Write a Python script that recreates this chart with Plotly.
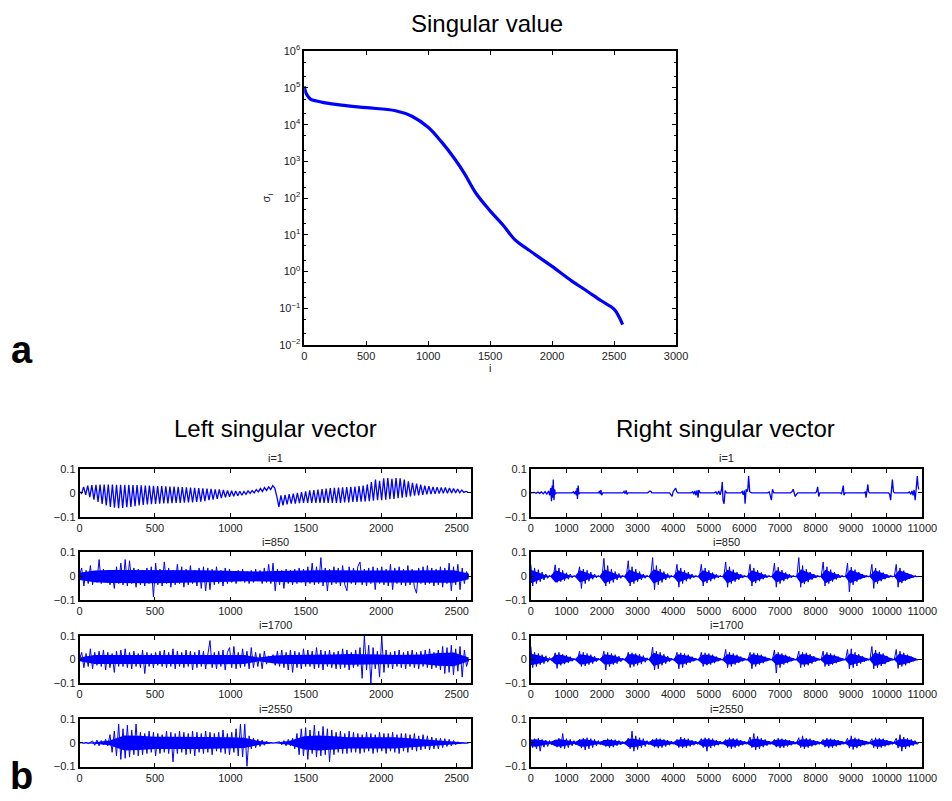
import numpy as np
import plotly.graph_objects as go

# ---- singular value spectrum (panel a) ----
sv_index = [0, 10, 21, 53, 100, 158, 300, 500, 737, 869, 1000, 1108, 1212, 1291,
            1383, 1500, 1607, 1699, 1792, 2000, 2160, 2266, 2397, 2500, 2542, 2569]
sv_value = [1.1e5, 8.0e4, 6.6e4, 4.9e4, 4.4e4, 4.0e4, 3.4e4, 2.9e4, 2.4e4, 1.7e4,
            8.5e3, 3.4e3, 1.2e3, 480, 140, 45, 18, 7.4, 4.3, 1.38, 0.55, 0.32,
            0.16, 0.095, 0.057, 0.036]
sv_yticks = [-2, -1, 0, 1, 2, 3, 4, 5, 6]
sv_xticks = [0, 500, 1000, 1500, 2000, 2500, 3000]

# ---- left singular vectors (values in units of 1e-3) ----
left_len = 2580
left_xticks = [0, 500, 1000, 1500, 2000, 2500]

# i=1 : per-cycle peak and trough
u1_peaks = [5, 25, 30, 32, 33, 34, 35, 35, 35, 34,
            34, 33, 33, 32, 32, 31, 30, 30, 29, 28,
            28, 27, 26, 26, 25, 24, 23, 22, 21, 20,
            19, 18, 17, 15, 14, 12, 10, 9, 8, 7,
            6, 8, 10, 14, 18, 22, 25, 30,
            -15, -10, -8, -5, -3, 0, 3, 6,
            10, 12, 14, 16, 18, 20, 21, 22, 23, 24,
            25, 26, 28, 30, 35, 45,
            55, 50, 60, 62, 58, 62, 60, 55, 48,
            42, 38, 34, 30, 28, 25, 24, 22, 22, 20, 18, 16, 12, 6]
u1_troughs = [-2, -8, -18, -28, -38, -46, -52, -58, -62, -64,
              -63, -60, -58, -55, -52, -50, -48, -47, -46, -45,
              -44, -44, -43, -42, -42, -41, -40, -40, -38, -36,
              -34, -30, -28, -25, -22, -18, -16, -14, -12, -10,
              -6, -2, 0, 4, 6, 10, 14, 20,
              -58, -52, -48, -45, -45, -43, -42, -42,
              -42, -42, -42, -42, -42, -42, -42, -42, -40, -40,
              -38, -38, -36, -36, -34, -32,
              -30, -30, -28, -26, -25, -22, -20, -18, -15,
              -12, -10, -8, -6, -5, -4, -3, -2, -2, -1, 0, 0, 2, 3]

u850 = [5, 35, -40, 25, -30, 45, -35, 20, -25, 70,
        -30, 30, -20, 25, -35, 15, -50, 40, -30, 55,
        -35, 70, -40, 65, -30, 35, -45, 30, -35, 25,
        -40, 35, -30, 40, -85, 55, -35, 30, -40, 60,
        -30, 35, -45, 25, -35, 50, -30, 40, -45, 30,
        -35, 45, -30, 25, -40, 35, -50, 40, -60, 35,
        -55, 30, -35, 40, -30, 25, -40, 35, -30, 30,
        -25, 20, -30, 25, -20, 30, -25, 20, -30, 25,
        -25, 30, -20, 25, -30, 35, -25, 50, -30, 55,
        -60, 30, -35, 25, -50, 30, -30, 25, -35, 30,
        -30, 35, -25, 30, -40, 40, -30, 55, -35, 40,
        -30, 78, -40, 35, -60, 30, -35, 40, -30, 35,
        -40, 45, -35, -60, 40, -30, 35, -35, 40, 60,
        -35, 30, -40, 35, -30, 40, -55, 35, -30, 40,
        -35, 30, -40, 50, -55, 35, -30, 40, -35, 30,
        -40, 45, -35, 30, -45, -70, 35, -30, 40, -35,
        45, -30, 35, -40, 30, -35, 40, -45, 35, -30,
        55, -60, 40, -35, 50, -55, 35, -30, 20, 0]
u850_core = [15, 24, 27, 27, 28, 28, 27, 27, 26, 24, 22, 20, 20, 22,
             24, 24, 26, 26, 24, 24, 24, 24, 24, 24, 26, 26, 12]

u1700 = [0, 30, -35, 25, -30, 45, -40, 30, -25, 35,
         -30, 40, -45, 30, -35, 25, -55, 35, -30, 40,
         -30, 45, -35, 30, -40, 35, -30, 25, -35, 40,
         -60, 30, -30, 25, -35, 30, -25, 35, -30, 40,
         -35, 30, -30, 45, -40, 35, -30, 30, -35, 40,
         -30, 35, -45, 30, -35, 40, -30, 35, -40, 30,
         80, -35, 30, -40, 35, -30, 40, -45, 30, 50,
         -35, 55, -40, 30, -35, 45, -30, 35, -40, 50,
         -35, 30, -30, 25, -40, 35, -20, 15, -10, 20,
         -25, 35, -30, 40, -35, 30, -45, 40, -55, 35,
         -35, 30, -40, 45, -30, 40, -30, 35, -40, 50,
         -35, 40, -45, 35, -30, 40, -35, 30, -40, 35,
         -40, 45, -35, 40, -45, 30, -35, 40, -30, 50,
         -80, 100, -45, 60, -100, 50, -40, 35, -75, 100,
         -55, 40, -35, 30, -40, 35, -30, 40, -35, 30,
         -40, 35, -30, 40, -35, 30, -40, 35, -30, 40,
         -35, 45, -40, 30, -35, 40, -45, 55, -60, 50,
         -55, 60, -65, 45, -50, 55, -75, 40, -30, 0]
u1700_core = [8, 19, 19, 19, 19, 19, 19, 19, 19, 21, 21, 19, 8, 17,
              19, 19, 21, 21, 23, 23, 21, 19, 19, 21, 27, 29, 8]

u2550 = [0, 2, -2, 3, -3, 2,
         8, -10, 12, -12, 10, -8, 15, -12,
         35, -40, 50, -55, 80, -70, 60, -65, 75, -60, 55, -50, 80, -55,
         45, -50, 40, -45, 50, -40, 45, -55, 40, -45, 35, -40, 50, -45,
         45, -80, 40, -45, 50, -40, 45, -50, 40, -45, 50, -55, 45, -40,
         40, -45, 50, -40, 45, -50, 40, -35, 45, -40, 55, -45, 40, -50,
         45, -40, 60, -55, 80, -60, 80, -100,
         30, -25, 20, -20, 15, -15, 12, -10, 8,
         -3, 2, -1, 1, 0,
         5, -8, 10, -12, 15, -12, 20, -25,
         40, -50, 60, -55, 65, -70, 55, -45, 75, -60, 50, -55, 70, -50,
         60, -80, 55, -50, 45, -40, 50, -45, 40, -45, 50, -40, 45, -40,
         40, -45, 35, -40, 45, -35, 40, -45, 35, -40, 45, -35, 40, -45,
         40, -35, 45, -40, 35, -45, 40, -35, 40, -40, 35, -30, 40, -35,
         30, -30, 35, -25, 30, -30, 25, -25, 20, -25, 20, -20,
         18, -15, 15, -12, 10, -8, 5, -4,
         2, -1, 1, 0]
u2550_core = [1, 3, 10, 32, 30, 26, 26, 26, 26, 26, 24, 22, 8, 1,
              8, 28, 32, 28, 24, 24, 24, 24, 20, 16, 10, 5, 1]

# ---- right singular vectors (values in units of 1e-3) ----
right_len = 10900
right_xticks = list(range(0, 11001, 1000))

v1_x = [0, 100, 150, 200, 250, 300, 350, 400, 450, 500, 530, 560, 580, 600, 615, 630, 650, 670, 690, 720,
        1150, 1200, 1230, 1260, 1280, 1300, 1310, 1330, 1350, 1380,
        1900, 1930, 1950, 1970, 1990, 2020,
        2580, 2620, 2650, 2680, 2700, 2730,
        3280, 3320, 3350, 3380, 3400,
        3900, 3950, 3970, 4000, 4040, 4070, 4100, 4130,
        4500, 4550, 4580, 4610, 4640, 4670, 4700, 4720, 4760,
        5150, 5200, 5240, 5280, 5320, 5360, 5380, 5400, 5430, 5460, 5500,
        5900, 5940, 5970, 6000, 6020, 6050, 6080, 6100, 6120, 6150, 6200,
        6650, 6700, 6730, 6760, 6790, 6830,
        7300, 7340, 7370, 7400, 7430, 7470, 7500,
        8000, 8030, 8060, 8090, 8120,
        8700, 8730, 8760, 8780, 8800, 8830,
        9370, 9400, 9420, 9440, 9470, 9490, 9520,
        10050, 10080, 10110, 10130, 10160, 10190, 10220,
        10600, 10640, 10680, 10710, 10740, 10770, 10800, 10830, 10860, 10880, 10900]
v1_y = [0, 2, -2, 3, -2, 4, -4, 5, -5, 8, -10, 20, -35, 30, -20, 55, -30, 15, -5, 0,
        0, 4, -5, 8, -10, 20, -25, 30, -5, 0,
        0, 8, -5, 12, -10, 0,
        0, 6, -3, 10, -6, 0,
        0, 4, 8, 5, 0,
        0, -8, -15, 5, 12, 20, 5, 0,
        0, 5, -6, 8, -10, 10, -20, 12, 0,
        0, 4, -6, 8, -8, 15, 45, -30, -45, 10, 0,
        0, 6, -8, 10, -45, 15, 5, 20, 70, 5, 0,
        0, 4, -10, -30, 15, 0,
        0, 5, 15, -5, -15, -5, 0,
        0, 5, 25, -15, 0,
        0, -5, 10, 30, -10, 0,
        0, 5, -20, 10, 35, 5, 0,
        0, -5, -30, 20, 55, 5, 0,
        0, 4, -6, 8, -10, 12, -30, 20, 70, 30, 15]

v850 = [50, -40, 35, -30, 28, -22, 18, -15, 10, -8, 5, -3, 1,
        48, -25, 35, -22, 25, -18, 15, -12, 10, -6, 4, -2, 1,
        40, -50, 30, -30, 25, -20, 18, -12, 10, -6, 4, -2, 0,
        75, -40, 45, -30, 30, -25, 20, -15, 12, -8, 5, -3, 1,
        65, -40, 40, -30, 30, -22, 20, -15, 10, -8, 5, -3, 1,
        78, -55, 45, -35, 30, -25, 20, -15, 12, -8, 5, -3, 1,
        50, -45, 35, -30, 25, -20, 18, -12, 10, -6, 4, -2, 1,
        50, -40, 35, -28, 25, -20, 16, -12, 9, -6, 4, -2, 1,
        60, -45, 40, -30, 28, -22, 18, -14, 10, -7, 4, -2, 1,
        50, -40, 35, -28, 25, -20, 16, -12, 9, -6, 4, -2, 1,
        55, -45, 38, -30, 26, -20, 16, -12, 9, -6, 4, -2, 1,
        78, -45, 45, -32, 30, -24, 18, -14, 10, -7, 4, -2, 1,
        60, -40, 40, -30, 28, -22, 18, -13, 10, -6, 4, -2, 1,
        55, -65, 38, -35, 28, -22, 18, -12, 9, -6, 4, -2, 1,
        50, -50, 35, -30, 25, -20, 16, -12, 9, -6, 4, -2, 1,
        50, -45, 35, -28, 24, -18, 14, -10, 7, -5, 3, -2, 0]
v850_core = [28, 20, 12, 5, 2,  25, 18, 10, 4, 2,  25, 18, 10, 4, 2,  30, 20, 12, 5, 2,
             28, 20, 12, 5, 2,  30, 22, 12, 5, 2,  25, 18, 10, 4, 2,  25, 18, 10, 4, 2,
             28, 20, 12, 5, 2,  25, 18, 10, 4, 2,  25, 18, 10, 4, 2,  30, 20, 12, 5, 2,
             28, 18, 10, 4, 2,  28, 20, 12, 5, 2,  25, 18, 10, 4, 2,  25, 18, 10, 4, 1]

v1700 = [55, -35, 30, -30, 25, -22, 20, -18, 15, -12, 8, -4, 1,
         28, -38, 30, -25, 22, -20, 18, -15, 12, -8, 5, -3, 1,
         35, -30, 30, -28, 25, -22, 20, -18, 14, -10, 6, -3, 1,
         35, -45, 30, -30, 25, -22, 20, -18, 14, -10, 6, -3, 1,
         30, -35, 28, -30, 25, -25, 22, -20, 16, -12, 7, -3, 1,
         52, -45, 35, -40, 30, -25, 22, -18, 14, -10, 6, -3, 1,
         30, -40, 28, -35, 25, -22, 20, -15, 12, -8, 5, -3, 1,
         30, -30, 28, -25, 25, -22, 20, -16, 12, -8, 5, -3, 1,
         42, -35, 30, -30, 25, -22, 20, -15, 12, -8, 5, -3, 1,
         30, -40, 28, -30, 25, -22, 20, -16, 12, -8, 5, -3, 1,
         40, -58, 30, -35, 25, -22, 20, -16, 12, -8, 5, -3, 1,
         35, -35, 30, -30, 28, -25, 22, -18, 14, -10, 6, -3, 1,
         35, -30, 30, -28, 25, -22, 20, -16, 12, -8, 5, -3, 1,
         42, -40, 45, -35, 30, -28, 22, -18, 14, -10, 6, -3, 1,
         55, -40, 40, -35, 32, -28, 25, -20, 15, -10, 6, -3, 1,
         42, -38, 35, -30, 28, -25, 20, -16, 12, -8, 5, -3, 0]
v1700_core = [24, 20, 16, 8, 2,  20, 20, 15, 8, 2,  22, 20, 16, 8, 2,  22, 20, 16, 8, 2,
              22, 22, 16, 8, 2,  28, 22, 16, 8, 2,  22, 20, 15, 8, 2,  20, 20, 15, 8, 2,
              22, 20, 15, 8, 2,  22, 20, 15, 8, 2,  24, 20, 15, 8, 2,  22, 22, 16, 8, 2,
              22, 20, 15, 8, 2,  25, 22, 16, 8, 2,  28, 22, 18, 8, 2,  24, 20, 15, 8, 1]

v2550 = [15, -20, 18, -25, 20, -35, 15, -18, 12, -15, 10, -8, 5,
         12, -18, 20, -22, 40, -25, 18, -20, 15, -12, 10, -8, 6,
         15, -22, 20, -30, 22, -25, 18, -20, 15, -12, 10, -8, 5,
         12, -15, 18, -20, 15, -18, 14, -12, 10, -8, 6, -5, 4,
         20, -25, 50, -35, 30, -28, 22, -20, 18, -15, 10, -8, 5,
         15, -18, 20, -22, 18, -20, 15, -15, 12, -10, 8, -6, 4,
         15, -20, 25, -22, 20, -20, 18, -15, 12, -10, 8, -6, 4,
         18, -20, 22, -35, 20, -22, 18, -15, 12, -10, 8, -6, 4,
         15, -20, 22, -25, 20, -20, 18, -15, 12, -10, 8, -6, 4,
         25, -20, 40, -30, 28, -25, 20, -18, 15, -12, 8, -6, 4,
         15, -18, 20, -22, 18, -20, 15, -15, 12, -10, 8, -6, 4,
         22, -20, 30, -25, 20, -20, 18, -15, 12, -10, 8, -6, 4,
         15, -18, 20, -22, 18, -20, 15, -15, 12, -10, 8, -6, 4,
         20, -22, 30, -28, 22, -22, 18, -15, 12, -10, 8, -6, 4,
         18, -20, 22, -25, 20, -20, 18, -15, 12, -10, 8, -6, 4,
         20, -22, 35, -35, 25, -25, 20, -18, 15, -12, 10, -6, 0]
v2550_core = [14, 16, 12, 8, 5,  14, 16, 12, 8, 5,  15, 16, 12, 8, 5,  12, 14, 10, 7, 4,
              18, 18, 14, 9, 5,  14, 15, 12, 8, 4,  14, 16, 12, 8, 4,  15, 16, 12, 8, 4,
              14, 16, 12, 8, 4,  16, 18, 14, 9, 5,  14, 15, 12, 8, 4,  15, 16, 12, 8, 4,
              14, 15, 12, 8, 4,  15, 17, 13, 8, 4,  14, 16, 12, 8, 4,  15, 17, 13, 8, 2]

panel_titles = ["i=1", "i=850", "i=1700", "i=2550"]

# ---------------------------------------------------------------------------
W, H = 952, 801
BLUE = "#0000ff"
FONT = "Liberation Sans, Arial, Helvetica, sans-serif"


def xdom(left, right):
    return [left / W, right / W]


def ydom(top, bottom):
    return [1 - bottom / H, 1 - top / H]


def milli(vals):
    return np.asarray(vals, dtype=float) * 1e-3


def sampled(vals, length):
    # signal values taken at a fixed stride along the sample index
    y = milli(vals)
    return np.linspace(0, length, len(y)), y


axis_style = dict(showline=True, linecolor="black", linewidth=1.6, mirror="ticks",
                  ticks="inside", ticklen=4, tickwidth=1, tickcolor="black",
                  showgrid=False, zeroline=False,
                  tickfont=dict(family=FONT, size=11, color="#222"))

fig = go.Figure()

# panel a
fig.add_trace(go.Scatter(x=sv_index, y=sv_value, mode="lines", line=dict(color=BLUE, width=3.2, shape="spline"),
                         xaxis="x", yaxis="y", hoverinfo="skip", showlegend=False))
layout = dict(
    width=W, height=H, margin=dict(l=0, r=0, t=0, b=0),
    paper_bgcolor="white", plot_bgcolor="white", showlegend=False,
    xaxis=dict(domain=xdom(307, 686), range=[0, 3000], tickvals=sv_xticks, anchor="y",
               title=dict(text="i", font=dict(family=FONT, size=11, color="#222"), standoff=2),
               **axis_style),
    yaxis=dict(domain=ydom(44, 343), type="log", range=[-2, 6], anchor="x",
               tickvals=[10.0 ** k for k in sv_yticks],
               ticktext=["10<sup>%s</sup>" % (str(k).replace("-", "\u2212")) for k in sv_yticks],
               title=dict(text="\u03c3<sub>i</sub>", font=dict(family=FONT, size=11, color="#222"), standoff=6),
               minor=dict(ticks="inside", ticklen=2, tickcolor="black", showgrid=False),
               **axis_style),
)

left_sets = [None, (u850, u850_core), (u1700, u1700_core), (u2550, u2550_core)]
right_sets = [None, (v850, v850_core), (v1700, v1700_core), (v2550, v2550_core)]
rows = [(469, 518), (554, 603), (639, 687), (724, 772)]

n = 2
for r, (top, bottom) in enumerate(rows):
    for side in ("left", "right"):
        core = None
        if side == "left":
            if r == 0:
                y = milli([v for pair in zip(u1_peaks, u1_troughs) for v in pair])
                x = np.linspace(0, left_len - 5, len(y))
            else:
                x, y = sampled(left_sets[r][0], left_len)
                core = left_sets[r][1]
            length = left_len
            xd = xdom(78, 477)
            xr = [0, 2595]
            xt = left_xticks
        else:
            if r == 0:
                x, y = np.asarray(v1_x, float), milli(v1_y)
            else:
                x, y = sampled(right_sets[r][0], right_len)
                core = right_sets[r][1]
            length = right_len
            xd = xdom(538, 937)
            xr = [0, 11000]
            xt = right_xticks
        if core is not None:
            # dense body of the signal: band between +/- the local half-width
            cx, cy = sampled(core, length)
            fig.add_trace(go.Scatter(x=np.concatenate([cx, cx[::-1]]),
                                     y=np.concatenate([cy, -cy[::-1]]),
                                     mode="lines", fill="toself", fillcolor=BLUE,
                                     line=dict(width=0, color=BLUE),
                                     xaxis="x%d" % n, yaxis="y%d" % n, hoverinfo="skip", showlegend=False))
        fig.add_trace(go.Scatter(x=x, y=y, mode="lines", line=dict(color=BLUE, width=1 if core is not None else 1.3),
                                 xaxis="x%d" % n, yaxis="y%d" % n, hoverinfo="skip", showlegend=False))
        layout["xaxis%d" % n] = dict(domain=xd, range=xr, tickvals=xt, ticktext=[str(t) for t in xt],
                                     anchor="y%d" % n, **axis_style)
        layout["yaxis%d" % n] = dict(domain=ydom(top, bottom), range=[-0.1, 0.1], anchor="x%d" % n,
                                     tickvals=[-0.1, 0, 0.1], ticktext=["\u22120.1", "0", "0.1"], **axis_style)
        n += 1

fig.update_layout(**layout)

annotations = [
    dict(text="Singular value", x=493 / W, y=1 - 16 / H, font=dict(size=24)),
    dict(text="Left singular vector", x=278 / W, y=1 - 428 / H, font=dict(size=24)),
    dict(text="Right singular vector", x=736 / W, y=1 - 428 / H, font=dict(size=24)),
    dict(text="<b>a</b>", x=19 / W, y=1 - 348 / H, font=dict(size=38)),
    dict(text="<b>b</b>", x=19 / W, y=1 - 782 / H, font=dict(size=38)),
]
for r, (top, bottom) in enumerate(rows):
    for cx in (277.5, 737.5):
        annotations.append(dict(text=panel_titles[r], x=cx / W, y=1 - (top - 11) / H,
                                font=dict(size=11, color="#222")))
for a in annotations:
    a.update(xref="paper", yref="paper", showarrow=False, xanchor="center", yanchor="middle")
    a["font"] = dict(family=FONT, color=a["font"].get("color", "black"), size=a["font"]["size"])
fig.update_layout(annotations=annotations)

fig.write_html("out.html")
